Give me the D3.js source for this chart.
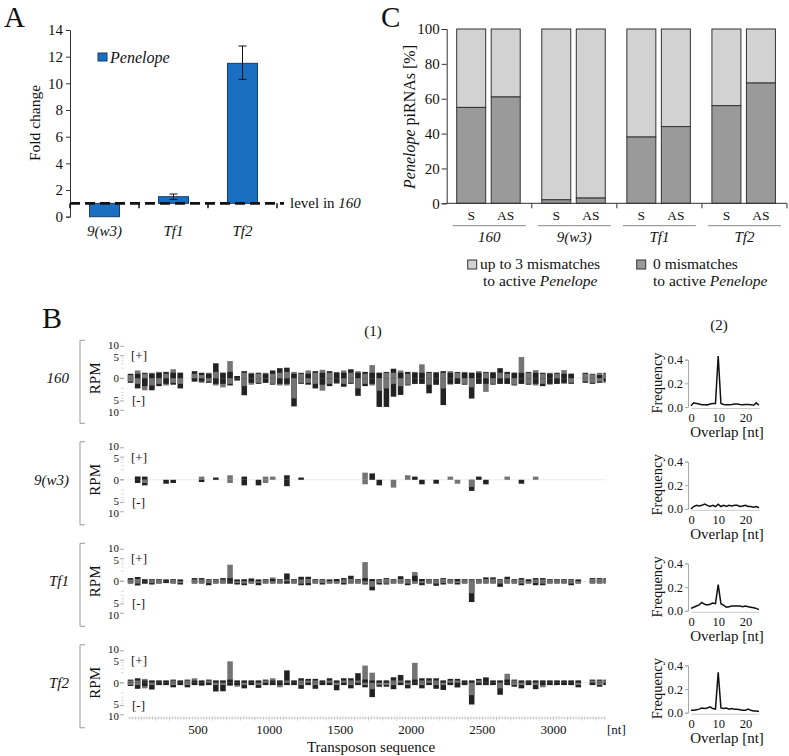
<!DOCTYPE html>
<html><head><meta charset="utf-8">
<script src="https://cdn.jsdelivr.net/npm/d3@7"></script>
<style>body{margin:0;background:#fff}svg{display:block;font-family:"Liberation Serif","Times New Roman",serif}</style>
</head><body>
<svg id="c" width="789" height="756"></svg>
<script>
// ---------- Panel A data ----------
const catsA = ["9(w3)", "Tf1", "Tf2"];
const foldChange = [0.0, 1.5, 11.5];
const foldErrLow = [null, 1.3, 10.3];
const foldErrHigh = [null, 1.7, 12.8];
const ticksA = [0, 2, 4, 6, 8, 10, 12, 14];

// ---------- Panel C data ----------
const strainsC = ["160", "9(w3)", "Tf1", "Tf2"];
const strands = ["S", "AS"];
const exact0S = [55, 2, 38, 56];     // 0 mismatches, sense
const exact0AS = [61, 3, 44, 69];    // 0 mismatches, antisense
const ticksC = [0, 20, 40, 60, 80, 100];

// ---------- Panel B(1) coverage data (RPM per 50-nt bin) ----------
const tracks = ["160", "9(w3)", "Tf1", "Tf2"];
const binSize = 50;
const plusMis160 = [0.1,0.6,0.2,0.3,0.4,0.2,0.8,0.3,0,0.2, 0.1,0.3,0.4,0.3,2.9,0.05,0.3,0.3,0.2,0.3, 0.2,0.3,0.4,0.4,0.2,0.6,0.3,0.7,0.3,0.4, 0.6,0.3,0.5,0.2,1.7,0.3,0.3,0.3,0.6,0.2, 0.4,1.9,0.3,0.4,0.3,0.5,0.3,0.4,0.3,0.5, 0.3,0.4,0.3,0.2,0.3,4.4,0.3,0.65,0.2,0.3, 0.2,0.65,0.2,0,0.2,0.15,0.3,0.2];
const plusExact160 = [0.2,0.2,0.3,0.2,0.3,0.4,0.3,0.3,0,0.5, 0.3,0.2,2.2,0.3,0.4,0.05,0.5,0.2,0.3,0.2, 0.6,1.0,1.1,0.2,0.3,0.2,0.5,0.3,0.5,0.3, 0.3,0.8,0.3,0.4,0.3,0.3,0.4,0.9,0.3,0.4, 0.3,0.3,0.4,0.3,0.5,0.3,0.4,0.3,0.3,0.3, 0.4,0.3,1.0,0.4,0.3,0.3,0.4,0.3,0.3,0.2, 0.3,0.2,0.2,0,0.3,0.2,0.1,0.3];
const minusMis160 = [0.1,0.3,1.4,0.5,0.3,0.5,0.2,0.3,0,0.1, 0.2,0.1,0.5,0.8,0.3,0,0.6,0.4,0.2,0.2, 0.3,0.5,0.5,3.9,0.2,0.2,0.3,1.5,0.3,0.3, 0.3,0.2,1.0,0.3,0.5,1.5,1.0,0.3,0.6,0.4, 0.3,0.3,0.4,0.4,1.0,0.4,0.3,0.3,0.8,0.3, 1.8,0.3,0.3,0.3,0.4,0.3,0.3,0.5,0.3,0.4, 0.3,0.3,0.2,0,0.1,0.2,0.1,0.2];
const minusExact160 = [0.2,1.0,0.6,1.4,0.6,0.3,0.4,1.0,0,0.1, 0.1,0.2,0.3,0.3,0.5,0.05,2.8,0.2,0.3,0.2, 0.4,0.3,0.3,7.7,0.3,0.4,1.0,0.4,0.6,0.2, 0.7,0.3,3.0,0.6,0.3,8.0,8.0,3.3,2.7,0.5, 0.3,0.3,2.2,0.4,7.0,0.3,0.3,0.4,4.0,0.3, 0.3,0.4,0.3,0.3,0.5,0.3,0.4,0.3,0.6,0.3, 0.3,0.2,0.3,0,0.2,0.3,0.2,0.1];

const plusMis9 = [0,0.1,0,0,0,0,0,0,0,0, 0.1,0,0,0,0.2,0,0,0,0,0.1, 0.1,0,0,0,0,0,0,0,0,0, 0,0,0,0.5,0,0,0,0,0,0.2, 0,0,0,0,0,0.1,0,0,0,0, 0,0,0,0.1,0,0,0,0.1,0,0, 0,0,0,0,0,0,0,0];
const plusExact9 = [0,0.1,0.1,0,0,0,0,0,0,0, 0,0,0.05,0,0,0,0.1,0,0,0, 0,0,0.2,0,0.05,0,0,0,0,0, 0,0,0,0,0.4,0,0,0,0,0, 0.1,0,0,0,0,0,0,0,0,0.1, 0,0,0,0,0,0,0,0,0,0, 0,0,0,0,0,0,0,0];
const minusMis9 = [0,0,0.1,0,0,0,0,0,0,0, 0,0,0,0,0.1,0,0,0,0,0.1, 0,0,0,0,0,0,0,0,0,0, 0,0,0,0.2,0,0,0,0.6,0,0, 0,0,0,0,0,0,0.15,0,0.5,0, 0,0,0,0,0,0,0,0,0,0, 0,0,0,0,0,0,0,0];
const minusExact9 = [0,0.1,0.3,0,0,0.15,0.1,0,0,0, 0.05,0,0,0,0,0,0.3,0,0.3,0, 0,0,0.4,0,0,0,0,0,0,0, 0,0,0,0,0,0.3,0,0,0,0, 0,0.2,0,0.15,0,0,0,0,1.2,0, 0.2,0,0,0,0,0.15,0,0,0,0, 0,0,0,0,0,0,0,0];

const plusMisTf1 = [0.03,0.05,0.05,0.03,0.03,0.03,0.03,0.03,0,0.03, 0.03,0.03,0.03,0.03,2.7,0.03,0.05,0.1,0.03,0.03, 0.15,0.03,0.03,0.03,0.03,0.05,0.03,0.03,0.03,0.05, 0.03,0.05,0.03,3.6,0.05,0.03,0.05,0.03,0.05,0.03, 0.85,0.05,0.03,0.03,0.05,0.03,0.05,0.03,0.03,0.03, 0.05,0.05,0.03,0.05,0.03,0.03,0.05,0.03,0.03,0.03, 0.03,0.03,0.03,0.03,0,0.05,0.05,0.05];
const plusExactTf1 = [0.1,0.18,0.03,0.05,0.05,0.03,0.05,0.03,0,0.1, 0.1,0.05,0.05,0.1,0.1,0.03,0.03,0.05,0.03,0.05, 0.05,0.05,0.6,0.05,0.2,0.2,0.05,0.05,0.03,0.05, 0.1,0.3,0.05,0.1,0.05,0.05,0.1,0.05,0.25,0.05, 0.3,0.05,0.05,0.05,0.1,0.05,0.05,0.05,0.05,0.05, 0.15,0.15,0.05,0.2,0.05,0.1,0.03,0.1,0.1,0.05, 0.05,0.05,0.05,0.03,0,0.1,0.1,0.1];
const minusMisTf1 = [0.03,0.05,0.05,0.03,0.03,0.03,0.03,0.03,0,0.03, 0.03,0.03,0.03,0.03,0.05,0.03,0.05,0.03,0.03,0.03, 0.03,0.03,0.05,0.03,0.05,0.03,0.03,0.03,0.03,0.03, 0.03,0.03,0.03,0.05,0.3,0.03,0.05,0.03,0.03,0.05, 0.03,0.03,0.03,0.05,0.03,0.03,0.03,0.03,1.4,0.03, 0.03,0.03,0.05,0.03,0.03,0.05,0.03,0.03,0.05,0.03, 0.03,0.03,0.05,0.03,0,0.03,0.03,0.03];
const minusExactTf1 = [0.05,0.17,0.05,0.1,0.05,0.03,0.05,0.1,0,0.05, 0.05,0.15,0.05,0.05,0.05,0.1,0.15,0.05,0.15,0.05, 0.05,0.05,0.05,0.05,0.15,0.15,0.05,0.1,0.05,0.05, 0.1,0.05,0.05,0.1,0.8,0.1,0.1,0.05,0.05,0.15, 0.05,0.15,0.05,0.2,0.1,0.05,0.1,0.05,4.2,0.05, 0.05,0.05,0.3,0.05,0.05,0.15,0.05,0.15,0.15,0.05, 0.05,0.05,0.15,0.05,0,0.05,0.05,0.05];

const plusMisTf2 = [0.05,0.05,0.15,0.05,0.05,0.05,0.05,0.05,0.05,0.2, 0.05,0.05,0.05,0.05,4.5,0.05,0.05,0.05,0.05,0.05, 0.2,0.05,0.05,0.05,0.05,0.05,0.05,0.05,0.05,0.05, 0.05,0.05,0.05,2.9,1.0,0.05,0.05,0.05,0.05,0.05, 3.9,0.05,0.05,0.05,0.05,0.05,0.05,0.05,0.05,0.05, 0.3,0.05,0.05,0.8,0.05,0.05,0.05,0.05,0.05,0.05, 0.05,0.05,0.05,0.05,0,0.05,0.05,0.05];
const plusExactTf2 = [0.1,0.2,0.05,0.05,0.05,0.05,0.1,0.05,0.1,0.05, 0.05,0.1,0.05,0.05,0.1,0.05,0.05,0.05,0.05,0.1, 0.05,0.05,1.5,0.05,0.2,0.15,0.15,0.05,0.2,0.05, 0.2,0.2,0.9,0.1,0.05,0.05,0.05,0.3,0.6,0.05, 0.1,0.2,0.2,0.2,0.05,0.15,0.15,0.05,0.05,0.15, 0.25,0.05,0.05,0.1,0.1,0.05,0.05,0.05,0.05,0.05, 0.05,0.05,0.05,0.05,0,0.1,0.1,0.1];
const minusMisTf2 = [0.05,0.05,0.3,0.05,0.05,0.05,0.05,0.05,0.05,0.05, 0.1,0.05,0.05,0.05,0.1,0.15,0.05,0.05,0.05,0.05, 0.05,0.2,0.05,0.05,0.05,0.05,0.05,0.05,0.05,0.05, 0.05,0.05,0.05,0.05,0.4,0.05,0.05,0.05,0.05,0.05, 0.05,0.05,0.05,0.05,0.05,0.05,0.2,0.05,1.5,0.05, 0.05,0.05,0.3,0.05,0.05,0.05,0.05,0.05,0.2,0.05, 0.05,0.05,0.05,0.05,0,0.05,0.05,0.05];
const minusExactTf2 = [0.1,0.35,0.1,0.44,0.05,0.05,0.2,0.05,0.2,0.05, 0.05,0.05,0.74,0.7,0.05,0.05,0.3,0.05,0.25,0.05, 0.05,0.05,0.05,0.05,0.35,0.05,0.35,0.05,0.05,0.55, 0.05,0.3,0.05,0.2,2.0,0.15,0.15,0.4,0.05,0.3, 0.05,0.3,0.05,0.35,0.5,0.05,0.2,0.05,4.6,0.05, 0.05,0.05,1.4,0.05,0.15,0.3,0.05,0.4,0.05,0.05, 0.05,0.05,0.05,0.2,0,0.05,0.15,0.05];

const rpmTicks = [10, 5, 0];
const rpmMinor = [1, 2, 3, 4];
const seqTicks = [500, 1000, 1500, 2000, 2500, 3000];

// ---------- Panel B(2) overlap data (overlap 0..25 nt) ----------
const overlapNt = d3.range(0, 26);
const overlap160 = [0.01,0.035,0.03,0.025,0.02,0.02,0.018,0.025,0.03,0.03,0.43,0.03,0.022,0.02,0.02,0.022,0.025,0.025,0.022,0.02,0.022,0.022,0.02,0.015,0.035,0.015];
const overlap9 = [0.0,0.02,0.03,0.025,0.03,0.04,0.03,0.02,0.03,0.02,0.04,0.02,0.03,0.02,0.03,0.025,0.03,0.03,0.02,0.025,0.03,0.02,0.02,0.015,0.02,0.01];
const overlapTf1 = [0.02,0.03,0.04,0.05,0.07,0.055,0.05,0.055,0.065,0.06,0.22,0.06,0.045,0.03,0.035,0.04,0.04,0.04,0.04,0.035,0.04,0.035,0.03,0.025,0.02,0.01];
const overlapTf2 = [0.02,0.02,0.025,0.03,0.04,0.035,0.04,0.05,0.035,0.03,0.34,0.04,0.035,0.04,0.03,0.035,0.03,0.03,0.025,0.02,0.02,0.03,0.02,0.015,0.015,0.01];
const freqTicks = [0, 0.2, 0.4];
const overlapTicks = [0, 10, 20];

// ================= drawing =================
const FONT = "Liberation Serif, Times New Roman, serif";
const svg = d3.select("#c");
svg.append("rect").attr("width", 789).attr("height", 756).attr("fill", "#fff");

function label(txt, x, y, size, opts = {}) {
  const t = svg.append("text").attr("x", x).attr("y", y).attr("font-size", size)
    .attr("font-family", FONT).attr("fill", "#111").text(txt);
  if (opts.anchor) t.attr("text-anchor", opts.anchor);
  if (opts.italic) t.attr("font-style", "italic");
  if (opts.baseline) t.attr("dominant-baseline", opts.baseline);
  return t;
}
function styleAxis(g, size, col) {
  g.attr("font-family", FONT);
  g.selectAll("text").attr("font-size", size).attr("font-family", FONT).attr("fill", "#111");
  g.selectAll("line,path").attr("stroke", col);
}

// ---------- Panel A ----------
label("A", 4, 27, 29);
const yA = d3.scaleLinear().domain([0, 14]).range([216.7, 30]);
const xA = d3.scaleBand().domain(catsA).range([70, 277]).paddingInner(0.565).paddingOuter(0.2825);
const gA = svg.append("g");
gA.append("g").attr("transform", "translate(70,0)")
  .call(d3.axisLeft(yA).tickValues(ticksA).tickSize(4).tickPadding(3))
  .call(g => styleAxis(g, 15, "#333"));
gA.selectAll("rect.bar").data(catsA).join("rect")
  .attr("x", d => xA(d)).attr("width", xA.bandwidth())
  .attr("y", (d, i) => Math.min(yA(1), yA(foldChange[i])))
  .attr("height", (d, i) => Math.abs(yA(1) - yA(foldChange[i])))
  .attr("fill", "#1b6fc3").attr("stroke", "#153d68").attr("stroke-width", 1);
catsA.forEach((c, i) => {
  if (foldErrLow[i] == null) return;
  const cx = xA(c) + xA.bandwidth() / 2;
  gA.append("line").attr("x1", cx).attr("x2", cx).attr("y1", yA(foldErrLow[i])).attr("y2", yA(foldErrHigh[i])).attr("stroke", "#111");
  [foldErrLow[i], foldErrHigh[i]].forEach(v => gA.append("line").attr("x1", cx - 4).attr("x2", cx + 4).attr("y1", yA(v)).attr("y2", yA(v)).attr("stroke", "#111"));
});
const stepA = xA.step();
d3.range(0, 4).forEach(k => {
  const bx = 70 + k * stepA;
  gA.append("line").attr("x1", bx).attr("x2", bx).attr("y1", yA(1)).attr("y2", yA(1) + 5).attr("stroke", "#111").attr("stroke-width", 1.5);
});
gA.append("line").attr("x1", 70).attr("x2", 284).attr("y1", yA(1)).attr("y2", yA(1))
  .attr("stroke", "#111").attr("stroke-width", 2.6).attr("stroke-dasharray", "10,5");
catsA.forEach(c => label(c, xA(c) + xA.bandwidth() / 2, 236, 15, { anchor: "middle", italic: true }));
const lv = label("level in ", 290, 208, 15);
lv.append("tspan").attr("font-style", "italic").text("160");
label("Fold change", 0, 0, 15.5, { anchor: "middle" }).attr("transform", "translate(40,123) rotate(-90)");
gA.append("rect").attr("x", 98).attr("y", 53).attr("width", 9).attr("height", 8).attr("fill", "#1b6fc3").attr("stroke", "#153d68");
label("Penelope", 110, 63, 16, { italic: true });

// ---------- Panel C ----------
label("C", 381, 27, 29);
const yC = d3.scaleLinear().domain([0, 100]).range([203.3, 29]);
const x0C = d3.scaleBand().domain(strainsC).range([446.7, 787]);
const x1C = d3.scaleBand().domain(strands).range([10, 73.5]).paddingInner(0.16);
const gC = svg.append("g");
gC.append("g").attr("transform", "translate(446.7,0)")
  .call(d3.axisLeft(yC).tickValues(ticksC).tickSize(5).tickPadding(2))
  .call(g => styleAxis(g, 15, "#333"));
strainsC.forEach((s, gi) => {
  strands.forEach((st, si) => {
    const v = si === 0 ? exact0S[gi] : exact0AS[gi];
    const bx = x0C(s) + x1C(st);
    gC.append("rect").attr("x", bx).attr("width", x1C.bandwidth()).attr("y", yC(100)).attr("height", yC(v) - yC(100))
      .attr("fill", "#d2d2d2").attr("stroke", "#333").attr("stroke-width", 1);
    gC.append("rect").attr("x", bx).attr("width", x1C.bandwidth()).attr("y", yC(v)).attr("height", yC(0) - yC(v))
      .attr("fill", "#9a9a9a").attr("stroke", "#333").attr("stroke-width", 1);
    label(st, bx + x1C.bandwidth() / 2, 220, 13.5, { anchor: "middle" });
  });
  gC.append("line").attr("x1", x0C(s) + 6).attr("x2", x0C(s) + x0C.bandwidth() - 6).attr("y1", 225.7).attr("y2", 225.7).attr("stroke", "#888");
  label(s, x0C(s) + x0C.bandwidth() / 2, 242, 15, { anchor: "middle", italic: true });
  gC.append("line").attr("x1", x0C(s) + x0C.bandwidth()).attr("x2", x0C(s) + x0C.bandwidth()).attr("y1", yC(0)).attr("y2", yC(0) + 5).attr("stroke", "#333");
});
gC.append("line").attr("x1", 446.7).attr("x2", 787).attr("y1", yC(0)).attr("y2", yC(0)).attr("stroke", "#333");
const ylC = label("", 0, 0, 16, { anchor: "middle" }).attr("transform", "translate(415,117) rotate(-90)");
ylC.append("tspan").attr("font-style", "italic").text("Penelope");
ylC.append("tspan").text(" piRNAs [%]");
gC.append("rect").attr("x", 467.7).attr("y", 260).attr("width", 9).attr("height", 9).attr("fill", "#d2d2d2").attr("stroke", "#333");
label("up to 3 mismatches", 480, 269, 15.5);
const l2 = label("to active ", 483, 286, 15.5); l2.append("tspan").attr("font-style", "italic").text("Penelope");
gC.append("rect").attr("x", 636.7).attr("y", 260).attr("width", 9).attr("height", 9).attr("fill", "#9a9a9a").attr("stroke", "#333");
label("0 mismatches", 653, 269, 15.5);
const l4 = label("to active ", 653, 286, 15.5); l4.append("tspan").attr("font-style", "italic").text("Penelope");

// ---------- Panel B ----------
label("B", 42, 328, 30);
label("(1)", 373, 336, 15, { anchor: "middle" });
label("(2)", 719, 330, 15, { anchor: "middle" });

const covData = [
  [plusMis160, plusExact160, minusMis160, minusExact160],
  [plusMis9, plusExact9, minusMis9, minusExact9],
  [plusMisTf1, plusExactTf1, minusMisTf1, minusExactTf1],
  [plusMisTf2, plusExactTf2, minusMisTf2, minusExactTf2]
];
const overlapData = [overlap160, overlap9, overlapTf1, overlapTf2];
const xS = d3.scaleLinear().domain([0, 3370]).range([127, 606]);
const hS = d3.scaleSqrt().domain([0, 10]).range([0, 32]);
const grayC = "#747474", darkC = "#222";

tracks.forEach((t, ti) => {
  const z = 378.3 + ti * 101.5;
  const g = svg.append("g");
  g.append("path").attr("d", `M85,${z - 38} H80 V${z + 45} H85`).attr("fill", "none").attr("stroke", "#999");
  label(t, 69, z, 15, { anchor: "end", italic: true, baseline: "central" });
  label("RPM", 0, 0, 15, { anchor: "middle" }).attr("transform", `translate(100,${z}) rotate(-90)`);
  const yUp = v => z - hS(v), yDn = v => z + hS(v);
  rpmTicks.forEach(v => {
    [yUp(v), yDn(v)].forEach(yy => g.append("line").attr("x1", 120).attr("x2", 124).attr("y1", yy).attr("y2", yy).attr("stroke", "#aaa"));
    const dy = v === 10 ? -1.5 : (v === 5 ? 1 : 0);
    label(String(v), 119, yUp(v) + dy, 11, { anchor: "end", baseline: "central" });
    if (v !== 0) label(String(v), 119, yDn(v) - dy, 11, { anchor: "end", baseline: "central" });
  });
  rpmMinor.forEach(v => {
    [yUp(v), yDn(v)].forEach(yy => g.append("line").attr("x1", 121).attr("x2", 124).attr("y1", yy).attr("y2", yy).attr("stroke", "#ddd"));
  });
  label("[+]", 131, yUp(5), 13, { baseline: "central" });
  label("[-]", 132, yDn(5), 13, { baseline: "central" });
  g.append("line").attr("x1", 127).attr("x2", 606).attr("y1", z).attr("y2", z).attr("stroke", "#ececec");
  const [pm, pe, mm, me] = covData[ti];
  pm.forEach((_, b) => {
    const x0 = xS(b * binSize), x1 = Math.min(xS((b + 1) * binSize), 606);
    const w = (x1 - x0) * 0.78, bx = x0 + (x1 - x0 - w) / 2;
    const plusItems = [{ v: pm[b], c: grayC }, { v: pe[b], c: darkC }].filter(d => d.v > 0).sort((a, c) => c.v - a.v);
    const minusItems = [{ v: mm[b], c: grayC }, { v: me[b], c: darkC }].filter(d => d.v > 0).sort((a, c) => c.v - a.v);
    plusItems.forEach(d => g.append("rect").attr("x", bx).attr("width", w).attr("y", yUp(d.v)).attr("height", hS(d.v)).attr("fill", d.c));
    minusItems.forEach(d => g.append("rect").attr("x", bx).attr("width", w).attr("y", z).attr("height", hS(d.v)).attr("fill", d.c));
  });

  const z2 = 407 + ti * 101.9;
  const xO = d3.scaleLinear().domain([0, 25]).range([691, 759]);
  const yO = d3.scaleLinear().domain([0, 0.4]).range([z2, z2 - 47.4]);
  const go = svg.append("g");
  go.append("g").attr("transform", "translate(688,0)")
    .call(d3.axisLeft(yO).tickValues(freqTicks).tickFormat(d3.format(".1f")).tickSize(3).tickPadding(2))
    .call(a => styleAxis(a, 12.5, "#aaa"));
  go.append("g").attr("transform", `translate(0,${z2 + 1})`)
    .call(d3.axisBottom(xO).tickValues(overlapTicks).tickSize(0).tickPadding(5))
    .call(a => { styleAxis(a, 12.5, "#ccc"); });
  go.append("path").datum(overlapData[ti])
    .attr("d", d3.line().x((d, i) => xO(overlapNt[i])).y(d => yO(d)))
    .attr("fill", "none").attr("stroke", "#111").attr("stroke-width", 1.5);
  label("Frequency", 0, 0, 14.5, { anchor: "middle" }).attr("transform", `translate(662,${z2 - 24}) rotate(-90)`);
  label("Overlap [nt]", 727, z2 + 30, 15, { anchor: "middle" });
});

const gR = svg.append("g");
d3.range(20, 3361, 20).forEach(v => {
  gR.append("line").attr("x1", xS(v)).attr("x2", xS(v)).attr("y1", 716.5).attr("y2", v % 100 === 0 ? 720.5 : 719.5).attr("stroke", "#bbb").attr("stroke-width", 0.8);
});
gR.append("line").attr("x1", 128).attr("x2", 606).attr("y1", 718).attr("y2", 718).attr("stroke", "#ccc").attr("stroke-width", 0.6);
seqTicks.forEach(v => label(String(v), xS(v), 734, 13, { anchor: "middle" }));
label("[nt]", 607, 734, 13);
label("Transposon sequence", 371, 752, 15, { anchor: "middle" });
</script>
</body></html>
